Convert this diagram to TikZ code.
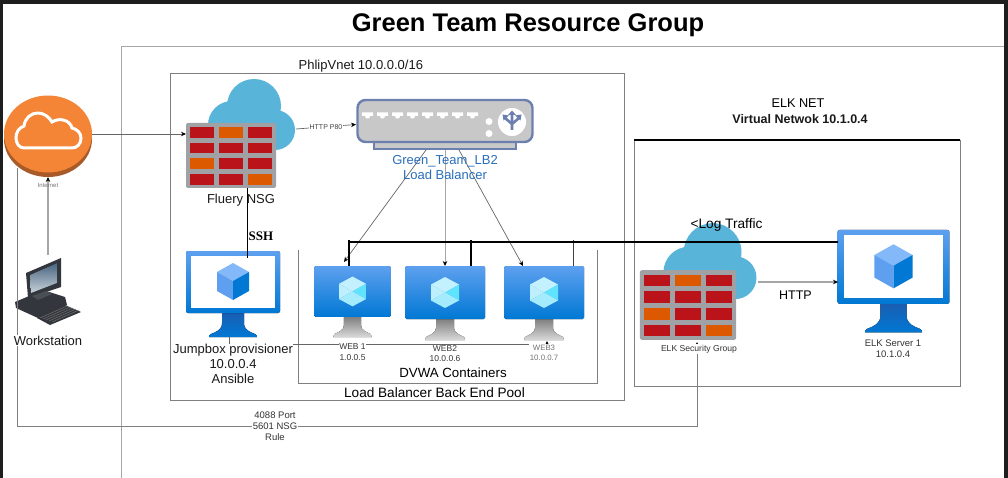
\documentclass[tikz,border=0pt]{standalone}
\usepackage{fontspec}
\setmainfont{Liberation Sans}
\newfontfamily\serifbold{Liberation Serif}[BoldFont={* Bold}]
\usetikzlibrary{shapes.geometric, arrows.meta}

\definecolor{framedark}{HTML}{1E1E1E}
\definecolor{boxgray}{HTML}{7F7F7F}
\definecolor{linklight}{HTML}{A6A6A6}
\definecolor{inetorange}{HTML}{F58536}
\definecolor{inetlipcol}{HTML}{A85A28}
\definecolor{cloudblue}{HTML}{59B4D9}
\definecolor{wallgray}{HTML}{A0A1A5}
\definecolor{wallred}{HTML}{BA141A}
\definecolor{wallorange}{HTML}{DD5900}
\definecolor{lbframe}{HTML}{6C80B0}
\definecolor{lbfill}{HTML}{C8C8C8}
\definecolor{lbtext}{HTML}{2A6EBB}
\definecolor{vmlight}{HTML}{5EA0EF}
\definecolor{vmblue}{HTML}{0078D4}
\definecolor{vmneck}{HTML}{1B5CAF}
\definecolor{cubetop}{HTML}{83B9F9}
\definecolor{cubehexa}{HTML}{C3F1FF}
\definecolor{cubehexb}{HTML}{BDEFFC}
\definecolor{cubehexc}{HTML}{5FE3FF}
\definecolor{cubehexd}{HTML}{A4ECFD}
\definecolor{wkdark}{HTML}{33363C}
\definecolor{wkmid}{HTML}{4A4E55}
\definecolor{wkscreentop}{HTML}{47647F}
\definecolor{wkscreenlow}{HTML}{C8D2DA}

\tikzset{
  iconbox/.style={inner sep=0pt, outer sep=0pt},
  groupbox/.style={draw=boxgray, line width=0.8pt},
  blacktip/.style={-{Stealth[length=5pt, width=4.5pt, black]}},
  thinlink/.style={draw=black!60, line width=0.7pt, blacktip},
  lightlink/.style={draw=linklight, line width=1.1pt, blacktip},
  busline/.style={draw=black, line width=2pt},
  lbl/.style={font=\fontsize{13}{15}\selectfont, text=black!90, align=center, inner sep=0.5pt},
  lblsmall/.style={font=\fontsize{8.5}{10.5}\selectfont, text=black!80, align=center, inner sep=0.5pt},
  % Cloud with firewall wall in front, origin at the centre of the wall
  nsgwall/.pic={
    \fill[cloudblue] (23,-49.5) circle (27) (1,-30.5) circle (24) (44,-25.5) circle (20);
    \fill[cloudblue] (1,-30) rectangle (44,-5.5);
    \fill[wallgray, rounded corners=2pt] (-45,-32.5) rectangle (45,32.5);
    \foreach \cx in {-41,-12,17} {
      \foreach \ry in {-28.5,-12.8,2.9,18.6} {
        \fill[wallred] (\cx,\ry) rectangle ++(24,10.7);
      }
    }
    \foreach \cx/\ry in {-12/-28.5, -41/2.9, 17/18.6} {
      \fill[wallorange] (\cx,\ry) rectangle ++(24,10.7);
    }
  },
  % Monitor with white screen, origin at the top centre
  whitescreen/.pic={
    \fill[top color=vmneck, bottom color=vmblue] (-11,60) -- (11,60) -- (11,72) .. controls (11,79) and (17,81) .. (22,83) .. controls (24,84) and (24,85) .. (24,86) -- (-24,86) .. controls (-24,85) and (-24,84) .. (-22,83) .. controls (-17,81) and (-11,79) .. (-11,72) -- cycle;
    \fill[rounded corners=2pt, top color=vmlight, bottom color=vmblue] (-47,0) rectangle (47,62);
    \fill[white] (-42,4.5) rectangle (42,57);
    \fill[cubetop] (0,12) -- (16,21) -- (0,30) -- (-16,21) -- cycle;
    \fill[vmlight] (-16,21) -- (0,30) -- (0,49) -- (-16,40) -- cycle;
    \fill[vmblue] (16,21) -- (0,30) -- (0,49) -- (16,40) -- cycle;
  },
  % Monitor with blue screen, origin at the top centre
  bluescreen/.pic={
    \fill[top color=black!50, bottom color=black!15] (-9,53) -- (9,53) -- (9,62) .. controls (9,67) and (15,69) .. (19,71) .. controls (20,72) and (20,73) .. (20,74) -- (-20,74) .. controls (-20,73) and (-20,72) .. (-19,71) .. controls (-15,69) and (-9,67) .. (-9,62) -- cycle;
    \fill[rounded corners=1.5pt, top color=vmlight, bottom color=vmblue] (-40,0) rectangle (40,53);
    \fill[cubehexa] (-14,18.5) -- (0,11) -- (14,18.5) -- (0,26.5) -- cycle;
    \fill[cubehexb] (-14,18.5) -- (0,26.5) -- (-14,34.5) -- cycle;
    \fill[cubehexc] (14,18.5) -- (0,26.5) -- (14,34.5) -- cycle;
    \fill[cubehexd] (-14,34.5) -- (0,26.5) -- (14,34.5) -- (0,42) -- cycle;
  }
}

\begin{document}
\begin{tikzpicture}[x=1pt, y=-1pt]
  \useasboundingbox (0,0) rectangle (1008,478);
  \fill[framedark] (0,0) rectangle (1008,478);
  \fill[white] (3,4) rectangle (1003.5,478);

  % Group boxes
  \draw[draw=linklight, line width=1pt] (121,478) -- (121,46.5) -- (1003.5,46.5);
  \draw[groupbox] (170,73) rectangle (624,400);
  \draw[groupbox] (298,250) -- (298,383) -- (597,383) -- (597,250);
  \draw[groupbox] (634,140) rectangle (960,386);
  \draw[black, line width=1.6pt] (634,140) -- (960,140);

  % Icon nodes, used as connector ends
  \node[iconbox, ellipse, minimum width=88pt, minimum height=76pt] (inetlip) at (48,139) {};
  \node[iconbox, minimum width=65pt, minimum height=73pt] (wks) at (48,291.5) {};
  \node[iconbox, minimum width=90pt, minimum height=65pt] (nsgfw) at (231,155.5) {};
  \node[iconbox, minimum width=178pt, minimum height=51pt] (lb) at (445,124.5) {};
  \node[iconbox, minimum width=94pt, minimum height=86pt, anchor=north] (jump) at (233,251) {};
  \node[iconbox, minimum width=77pt, minimum height=71pt, anchor=north] (web1) at (352.5,266) {};
  \node[iconbox, minimum width=80pt, minimum height=74pt, anchor=north] (web2) at (445,266) {};
  \node[iconbox, minimum width=80pt, minimum height=74pt, anchor=north] (web3) at (544,266) {};
  \node[iconbox, minimum width=96pt, minimum height=70pt] (elkfw) at (688,305) {};
  \node[iconbox, minimum width=111pt, minimum height=103pt, anchor=north] (elksrv) at (893.5,230) {};

  % Free ends of connectors
  \coordinate (inetdrop) at (17,168);
  \coordinate (nsgcloud) at (296,129);
  \coordinate (elkcloud) at (758,282);
  \coordinate (bus1) at (348.7,240);
  \coordinate (bus2) at (471,240);
  \coordinate (bus3) at (573,240);

  % Internet disk
  \fill[inetlipcol] (inetlip.center) ellipse (44 and 38);
  \node[iconbox, ellipse, fill=inetorange, minimum width=88pt, minimum height=77pt] (inet) at (48,134) {};
  \draw[white, line width=3pt] (24,148) .. controls (19,148) and (16,143) .. (16,138) .. controls (16,132) and (19,128) .. (24,126) .. controls (25,118) and (31,113) .. (38,113) .. controls (44,113) and (49,117) .. (52,122) .. controls (55,120) and (60,119) .. (63,120) .. controls (68,121) and (71,124) .. (72,128) .. controls (77,129) and (81,133) .. (81,138) .. controls (81,144) and (77,148) .. (72,148) -- cycle;

  % Workstation
  \fill[wkdark] (26,273) -- (61,258) -- (61,287) -- (28,298) -- cycle;
  \fill[top color=wkscreentop, bottom color=wkscreenlow] (30,275) -- (57,263) -- (57,283) -- (31,293) -- cycle;
  \fill[wkdark] (15,302) -- (43,290) -- (65,297) -- (67,305) -- (38,318) -- (16,308) -- cycle;
  \fill[wkmid] (32,296) -- (46,291) -- (52,294) -- (38,300) -- cycle;
  \fill[wkdark] (37,318) -- (65,305) -- (81,312) -- (50,325) -- cycle;
  \foreach \kk in {0,1,2,3,4} {
    \draw[black!55, line width=0.5pt] (40+\kk*3,318+\kk*1) -- (67+\kk*3,306+\kk*1);
  }

  % Other icons
  \pic at (nsgfw.center) {nsgwall};
  \pic[scale=1.07] at (elkfw.center) {nsgwall};
  \pic at (jump.north) {whitescreen};
  \pic[scale=1.19] at (elksrv.north) {whitescreen};
  \pic[scale=0.96] at (web1.north) {bluescreen};
  \pic at (web2.north) {bluescreen};
  \pic at (web3.north) {bluescreen};

  % Load balancer
  \fill[lbframe] (373,143) rectangle (517,150);
  \fill[lbfill] (375,143) rectangle (515,148);
  \draw[lbframe, fill=lbfill, line width=2.4pt, rounded corners=8pt] (357.5,100) rectangle (532.5,142);
  \foreach \px in {367.5,382.5,...,475} {
    \fill[white] (\px-5.5,112.5) -- (\px+5.5,112.5) -- (\px+5.5,116) -- (\px+2.5,116) -- (\px+1.5,118.5) -- (\px-1.5,118.5) -- (\px-2.5,116) -- (\px-5.5,116) -- cycle;
  }
  \fill[white] (489,121.5) circle (3.5) (489,133.5) circle (3.5) (512,122) circle (14);
  \draw[lbframe, line width=2.6pt] (512,130) -- (512,114) (512,124) -- (505,118) (512,124) -- (519,118);
  \fill[lbframe] (508,115) -- (512,110.5) -- (516,115) -- cycle;
  \fill[lbframe] (502.5,114.5) -- (509,115.5) -- (503.5,120.5) -- cycle;
  \fill[lbframe] (521.5,114.5) -- (515,115.5) -- (520.5,120.5) -- cycle;

  % Connectors
  \draw[thinlink] (inet.east) -- (inet.east -| nsgfw.west);
  \draw[lightlink] (wks.north) -- (inetlip.south);
  \draw[thinlink] (nsgcloud) -- (lb.west) node[midway, fill=white, inner sep=0.5pt, font=\fontsize{7}{8}\selectfont, text=black!75] (httpfour) {HTTP P80};
  \draw[black, line width=0.9pt] ([xshift=16pt]nsgfw.south) -- ([xshift=14pt,yshift=-7pt]jump.north);
  \draw[thinlink] ([xshift=-19pt]lb.south) -- ([xshift=-8.5pt,yshift=4pt]web1.north);
  \draw[lightlink, line width=1pt] (lb.south) -- (web2.north);
  \draw[thinlink] ([xshift=14pt]lb.south) -- ([xshift=-21pt]web3.north);
  \draw[thinlink, line width=0.6pt] ([xshift=-4pt]jump.south) -- ([xshift=-4pt,yshift=-7pt]jump.south) -- ([xshift=3pt,yshift=-4pt]web3.south) -- ([xshift=3pt,yshift=-1pt]web3.south);
  \draw[groupbox, blacktip] (inetdrop) -- (inetdrop |- 0,426) -- (697,426) -- (697,342);
  \draw[lightlink] (elkcloud) -- (elkcloud -| elksrv.west);

  % Log traffic bus
  \draw[busline] (bus1) -- (bus1 |- web1.north);
  \draw[busline] (bus2) -- (bus2 |- web2.north);
  \draw[black!75, line width=1pt] (bus3) -- (bus3 |- web3.north);
  \draw[busline] (bus1 |- 0,242) -- (0,242 -| elksrv.west);

  % Labels
  \node[font=\fontsize{25.5}{28}\bfseries\selectfont, text=black, inner sep=0pt] (title) at (528,25) {Green Team Resource Group};
  \node[lbl, anchor=west] (vnetname) at (298,66.5) {PhlipVnet 10.0.0.0/16};
  \node[font=\fontsize{6}{7}\selectfont, text=black!55, inner sep=0pt] (inetname) at (48,185) {Internet};
  \node[lbl, fill=white] (wksname) at (48,340.5) {Workstation};
  \node[lbl] (nsgname) at (241,200.5) {Fluery NSG};
  \node[font=\fontsize{13}{15}\serifbold\bfseries\selectfont, inner sep=0pt] (sshname) at (261,236) {SSH};
  \node[lbl, text=lbtext] (lbname) at (445,167.5) {Green\_Team\_LB2\\Load Balancer};
  \node[lbl, fill=white] (jumpname) at (233,364) {Jumpbox provisioner\\10.0.0.4\\Ansible};
  \node[lblsmall, fill=white] (web1name) at (352.5,352) {WEB 1\\1.0.0.5};
  \node[lblsmall, fill=white] (web2name) at (445,353.5) {WEB2\\10.0.0.6};
  \node[lblsmall, fill=white, font=\fontsize{7.8}{10}\selectfont, text=black!55] (web3name) at (544,352.5) {WEB3\\10.0.0.7};
  \node[lbl, font=\fontsize{13.3}{15}\selectfont, text=black] (dvwaname) at (453,373) {DVWA Containers};
  \node[lbl, font=\fontsize{13.6}{15}\selectfont, text=black] (poolname) at (434.5,392.5) {Load Balancer Back End Pool};
  \node[lblsmall, fill=white, font=\fontsize{9.5}{11}\selectfont] (rulename) at (275,426) {4088 Port\\5601 NSG\\Rule};
  \node[lbl, font=\fontsize{12.7}{15}\selectfont, text=black] (elknetname) at (798,103) {ELK NET};
  \node[lbl, font=\fontsize{12.5}{15}\bfseries\selectfont] (elkvnetname) at (800,119) {Virtual Netwok 10.1.0.4};
  \node[lbl, font=\fontsize{13.7}{15}\selectfont, text=black] (logname) at (726.5,224.5) {<Log Traffic};
  \node[lbl, font=\fontsize{12.5}{15}\selectfont, text=black] (httpname) at (795.5,295) {HTTP};
  \node[lblsmall, fill=white, font=\fontsize{8.6}{10}\selectfont] (elkfwname) at (699,349) {ELK Security Group};
  \node[lblsmall, font=\fontsize{9.5}{11}\selectfont] (elksrvname) at (893,348.5) {ELK Server 1\\10.1.0.4};
\end{tikzpicture}
\end{document}
